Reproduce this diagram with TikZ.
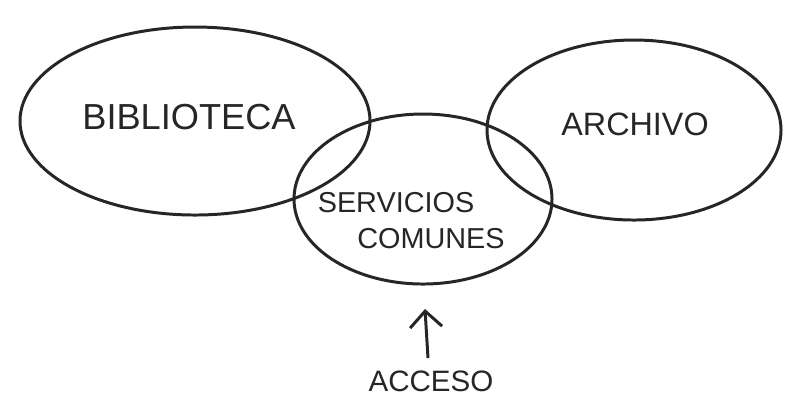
\documentclass[tikz,border=0pt]{standalone}
\usepackage{fontspec}
\setmainfont{Liberation Sans}
\usetikzlibrary{shapes.geometric,arrows.meta}
\tikzset{
  zona/.style={draw=black!85, line width=0.85pt, ellipse, inner sep=0pt},
  rotulo/.style={font=\fontsize{#1}{#1}\selectfont, text=black!85},
}
\begin{document}
\begin{tikzpicture}
    \useasboundingbox (0,0) rectangle (7.89,-4.06);
    % las tres zonas
    \node[zona, minimum width=3.50cm, minimum height=1.88cm] (bib) at (1.95,-1.21) {};
    \node[zona, minimum width=2.94cm, minimum height=1.80cm] (arch) at (6.34,-1.30) {};
    \node[zona, minimum width=2.58cm, minimum height=1.70cm] (serv) at (4.23,-1.99) {};
    % textos
    \node[rotulo=10.3] (tbib) at (1.89,-1.17) {BIBLIOTECA};
    \node[rotulo=9.2] (tarch) at (6.35,-1.24) {ARCHIVO};
    \node[rotulo=8.2] (tserv) at (3.96,-2.03) {SERVICIOS};
    \node[rotulo=8.2] (tcom) at (4.31,-2.39) {COMUNES};
    \node[rotulo=8.4] (acceso) at (4.31,-3.81) {ACCESO};
    \coordinate (entrada) at (4.25,-3.09);
    \draw[line width=0.85pt, draw=black!85, -{Straight Barb[length=1.6mm,width=3.2mm]}] (acceso.north) ++(-0.03,0) -- (entrada);
\end{tikzpicture}
\end{document}
